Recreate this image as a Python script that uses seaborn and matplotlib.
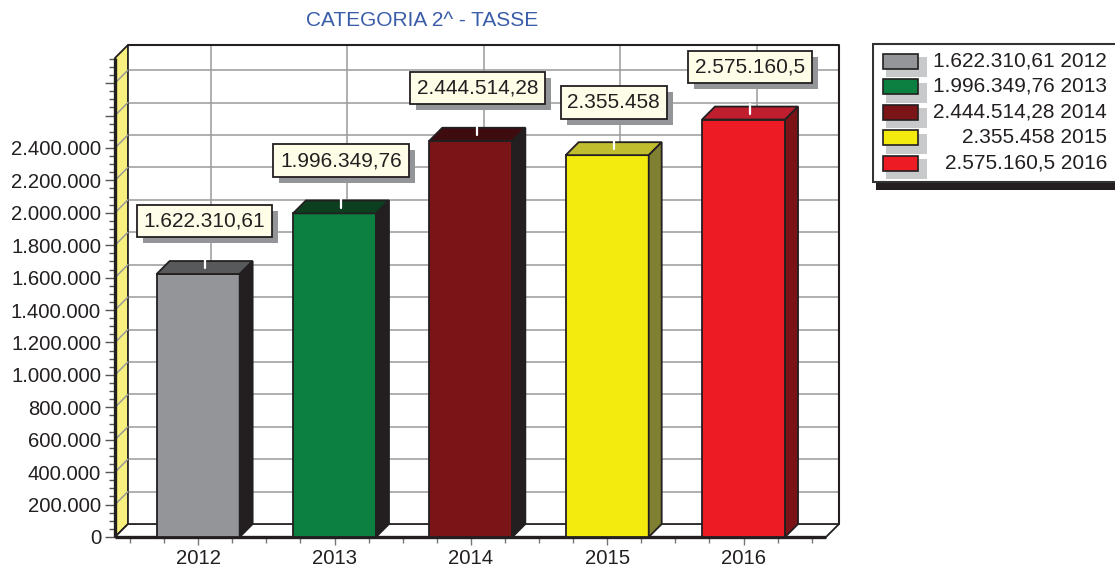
import matplotlib
matplotlib.use("Agg")
import matplotlib.pyplot as plt
import matplotlib.patheffects as pe
from matplotlib.patches import Polygon, Rectangle
from matplotlib.ticker import FixedLocator
import numpy as np
import pandas as pd
import seaborn as sns

# ---- data ----
years = ["2012", "2013", "2014", "2015", "2016"]
values = [1622310.61, 1996349.76, 2444514.28, 2355458.0, 2575160.5]
title = "CATEGORIA 2^ - TASSE"
y_tick_values = [0, 200000, 400000, 600000, 800000, 1000000, 1200000, 1400000,
                 1600000, 1800000, 2000000, 2200000, 2400000, 2600000, 2800000]
y_labelled_max = 2400000

# ---- styles ----
front_colors = ["#939598", "#0b8040", "#7b1416", "#f3ea0e", "#ed1c24"]
top_colors = ["#58595b", "#0c3f1f", "#3e0c0f", "#c0bd2f", "#be1e2d"]
side_colors = ["#231f20", "#231f20", "#231f20", "#808033", "#7a1216"]
edge = "#231f20"
grid_c = "#9a9a9a"

def it_fmt(v):
    s = f"{v:,.2f}".rstrip("0").rstrip(".")
    return s.replace(",", "X").replace(".", ",").replace("X", ".")

sns.set_theme(style="white")
plt.rcParams["font.family"] = ["Liberation Sans", "DejaVu Sans"]

W, H = 1115, 569
fig = plt.figure(figsize=(W / 100, H / 100), dpi=100)
fig.patch.set_facecolor("white")

x0, x1 = -0.61, 4.70
ymax = 3.035e6
dx = 0.095
dy = 80000
ax = fig.add_axes([115 / W, (H - 537) / H, (839 - 115) / W, (537 - 45) / H])
ax.set_facecolor("none")

df = pd.DataFrame({"anno": years, "valore": values})
bw = 0.609
sns.barplot(data=df, x="anno", y="valore", hue="anno", palette=front_colors,
            width=bw, legend=False, saturation=1, edgecolor=edge,
            linewidth=1.3, ax=ax, zorder=5)

ax.set_xlim(x0, x1)
ax.set_ylim(0, ymax)
for s in ax.spines.values():
    s.set_visible(False)
ax.grid(False)

# back wall
bx0 = x0 + dx
ax.add_patch(Polygon([(bx0, dy), (x1, dy), (x1, ymax), (bx0, ymax)], closed=True,
                     fc="white", ec="none", zorder=0.5))
# horizontal grid on back wall + diagonals on side wall
for v in y_tick_values[1:]:
    ax.plot([bx0, x1], [v + dy, v + dy], color=grid_c, lw=1.1, zorder=1)
    ax.plot([x0, bx0], [v, v + dy], color=grid_c, lw=1.1, zorder=2.5)
# vertical grid
for i in range(len(years)):
    ax.plot([i + dx, i + dx], [dy, ymax], color=grid_c, lw=1.1, zorder=1)
# back wall border
ax.plot([bx0, x1, x1], [ymax, ymax, dy], color=edge, lw=1.5, zorder=2, clip_on=False)
# side wall (yellow)
ax.add_patch(Polygon([(x0, 0), (bx0, dy), (bx0, ymax), (x0, ymax - dy)], closed=True,
                     fc="#f7f07e", ec=edge, lw=1.3, zorder=2, clip_on=False))
# floor
fx1 = x1 - dx
ax.add_patch(Polygon([(x0, 0), (fx1, 0), (x1, dy), (bx0, dy)], closed=True,
                     fc="white", ec=edge, lw=1.3, zorder=2, clip_on=False))
# thick front edges
ax.plot([x0, x0], [0, ymax - dy], color=edge, lw=2.4, zorder=3, clip_on=False,
        solid_capstyle="butt")
ax.plot([x0, fx1], [0, 0], color=edge, lw=2.4, zorder=3, clip_on=False,
        solid_capstyle="butt")

# 3D bar faces
for i, v in enumerate(values):
    l, r = i - bw / 2, i + bw / 2
    ax.add_patch(Polygon([(l, v), (r, v), (r + dx, v + dy), (l + dx, v + dy)], closed=True,
                         fc=top_colors[i], ec=edge, lw=1.3, zorder=5))
    ax.add_patch(Polygon([(r, 0), (r + dx, dy), (r + dx, v + dy), (r, v)], closed=True,
                         fc=side_colors[i], ec=edge, lw=1.3, zorder=5))
    ax.plot([i + dx / 2, i + dx / 2], [v + dy * 0.45, v + dy + 15000],
            color="white", lw=1.6, zorder=6)
    t = ax.annotate(it_fmt(v), xy=(i + dx / 2, v), xytext=(0, 38),
                    textcoords="offset points", ha="center", va="center",
                    fontsize=15, color=edge, zorder=8,
                    bbox=dict(boxstyle="square,pad=0.32", fc="#fdfde8", ec=edge, lw=1.3))
    t.get_bbox_patch().set_path_effects(
        [pe.SimplePatchShadow(offset=(4.3, -4.3), shadow_rgbFace="#939598", alpha=1.0),
         pe.Normal()])

# ticks
ax.yaxis.set_major_locator(FixedLocator(y_tick_values))
ax.set_yticklabels([it_fmt(v) if v <= y_labelled_max else "" for v in y_tick_values])
ax.yaxis.set_minor_locator(FixedLocator(np.arange(0, 2950001, 50000)))
ax.xaxis.set_minor_locator(FixedLocator(np.arange(-0.5, 4.51, 0.25)))
ax.set_xticks(range(len(years)))
ax.set_xticklabels(years)
ax.tick_params(axis="y", which="major", left=True, direction="out", length=7, width=1,
               color="#555555", labelsize=14.6, labelcolor=edge, pad=3)
ax.tick_params(axis="y", which="minor", left=True, direction="out", length=4, width=1,
               color="#555555")
ax.tick_params(axis="x", which="major", bottom=True, direction="out", length=6, width=1,
               color="#777777", labelsize=14.6, labelcolor=edge, pad=3)
ax.tick_params(axis="x", which="minor", bottom=True, direction="out", length=4, width=1,
               color="#777777")
ax.set_xlabel("")
ax.set_ylabel("")

# title
fig.text(422 / W, 1 - 20 / H, title, ha="center", va="center", fontsize=15,
         color="#3a5ca9")

# legend
lax = fig.add_axes([872 / W, (H - 192) / H, (W - 872) / W, (192 - 40) / H])
lax.set_xlim(872, W)
lax.set_ylim(192, 40)
lax.axis("off")
lax.add_patch(Rectangle((876, 182), 260, 7.5, fc=edge, ec="none"))
lax.add_patch(Rectangle((872.8, 43.5), 260, 138.5, fc="white", ec="#333333", lw=1.5))
for k, (yr, v) in enumerate(zip(years, values)):
    yc = 61 + 25.5 * k
    lax.add_patch(Rectangle((886, yc - 4), 41, 20, fc="#c8c9cb", ec="none"))
    lax.add_patch(Rectangle((883, yc - 7.5), 35, 15, fc=front_colors[k], ec=edge, lw=1.2))
    lax.text(1107, yc, f"{it_fmt(v)} {yr}", ha="right", va="center", fontsize=15,
             color=edge)

fig.savefig("out.png", dpi=100, facecolor="white")
